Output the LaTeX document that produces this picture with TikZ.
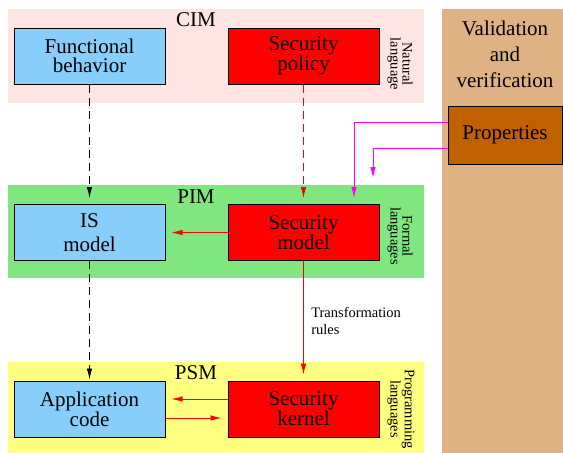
\documentclass[tikz,border=0pt]{standalone}
\usepackage{fontspec}
\setmainfont{Liberation Serif}
\usetikzlibrary{arrows.meta}
\definecolor{boxblue}{RGB}{135,206,250}
\definecolor{boxred}{RGB}{255,0,0}
\definecolor{cimbg}{RGB}{255,228,228}
\definecolor{pimbg}{RGB}{128,230,128}
\definecolor{psmbg}{RGB}{255,255,128}
\definecolor{vvbg}{RGB}{222,178,130}
\definecolor{propbg}{RGB}{192,96,0}
\definecolor{mag}{RGB}{255,0,255}
\tikzset{
  bigtext/.style={font=\rmfamily\fontsize{21}{19}\selectfont},
  modbox/.style={draw=black, line width=1pt, minimum width=151pt, minimum height=56pt, inner sep=0pt, align=center, bigtext},
  bluebox/.style={modbox, fill=boxblue},
  redbox/.style={modbox, fill=boxred},
  sidelabel/.style={rotate=-90, align=center, font=\rmfamily\fontsize{14.5}{12}\selectfont, inner sep=0pt},
  levellabel/.style={bigtext, inner sep=0pt},
  tip/.style={-{Latex[length=11pt,width=5.5pt]}},
  blackdash/.style={tip, draw=black, line width=0.9pt, dash pattern=on 8pt off 5pt},
  reddash/.style={tip, draw=boxred, line width=0.9pt, dash pattern=on 8pt off 5pt},
  redline/.style={tip, draw=boxred, line width=0.9pt},
  magline/.style={tip, draw=mag, line width=1pt},
}
\begin{document}
\begin{tikzpicture}[x=1pt, y=-1pt]
\useasboundingbox (0,0) rectangle (563,453);
% background bands
\fill[cimbg] (8,9) rectangle (424,103);
\fill[pimbg] (8,185) rectangle (424,278);
\fill[psmbg] (8,362) rectangle (424,453);
\fill[vvbg] (442,9) rectangle (563,453);
% level labels
\node[levellabel] (cim) at (196,20) {CIM};
\node[levellabel] (pim) at (196,197) {PIM};
\node[levellabel] (psm) at (196,373) {PSM};
\node[sidelabel] (nat) at (400,64) {Natural\\language};
\node[sidelabel] (form) at (400,236) {Formal\\languages};
\node[sidelabel] (prog) at (401,409) {Programming\\languages};
\node[align=center, font=\rmfamily\fontsize{21}{26}\selectfont] (vv) at (505,54) {Validation\\and\\verification};
% boxes
\node[bluebox] (fb) at (89.5,56) {Functional\\behavior};
\node[redbox] (sp) at (303.5,56) {Security\\policy};
\node[bluebox, font=\rmfamily\fontsize{21}{24}\selectfont] (is) at (89.5,232.5) {IS\\model};
\node[redbox] (sm) at (303.5,232.5) {Security\\model};
\node[bluebox] (ac) at (89.5,409) {Application\\code};
\node[redbox] (sk) at (303.5,409) {Security\\kernel};
\node[draw=black, line width=1pt, fill=propbg, minimum width=114pt, minimum height=58pt, inner sep=0pt, bigtext] (props) at (505,135) {Properties};
% connectors
\draw[blackdash, shorten >=6pt] (fb.south) -- (is.north);
\draw[blackdash, shorten >=1pt] (is.south) -- (ac.north);
\draw[reddash, shorten >=6pt] (sp.south) -- (sm.north);
\draw[redline, shorten >=6pt] (sm.south) -- node[right, align=left, xshift=4pt, font=\rmfamily\fontsize{14.5}{17}\selectfont] (tr) {Transformation\\rules} (sk.north);
\draw[redline, shorten >=6pt] (sm.west) -- (sm.west -| is.east);
\draw[redline, shorten >=6pt] ([yshift=10pt]sk.west) -- ([yshift=10pt]sk.west -| ac.east);
\draw[redline, shorten >=6pt] ([yshift=-9pt]ac.east) -- ([yshift=-9pt]ac.east -| sk.west);
\coordinate (m1) at (354,198);
\coordinate (m2) at (373,178);
\draw[magline] (props.west |- 0,122) -| (m1);
\draw[magline] (props.west |- 0,148) -| (m2);
\end{tikzpicture}
\end{document}
